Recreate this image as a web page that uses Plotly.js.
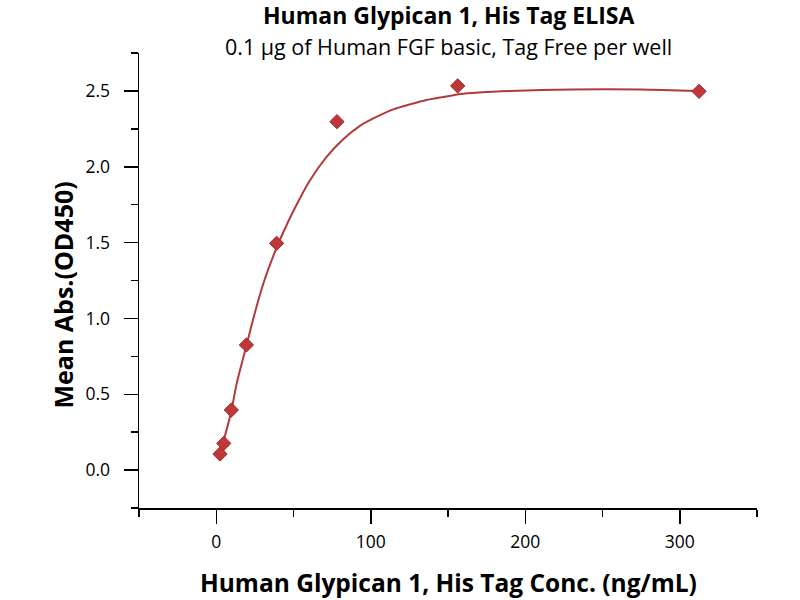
<!DOCTYPE html>
<html>
<head>
<meta charset="utf-8">
<script src="https://cdn.plot.ly/plotly-3.0.1.min.js"></script>
<style>html,body{margin:0;padding:0;background:#fff;}#chart{width:800px;height:600px;}</style>
</head>
<body>
<div id="chart"></div>
<script>
// Measured points
const concentration = [2.44, 4.88, 9.77, 19.53, 39.06, 78.13, 156.25, 312.5];
const meanAbs = [0.106, 0.176, 0.396, 0.825, 1.495, 2.297, 2.533, 2.497];
// Fitted curve
const curveX = [2.44, 4.88, 9.77, 13.2, 19.53, 24, 30.5, 38, 43, 50, 60, 71, 82, 93, 104, 115, 125, 136, 147, 158, 170, 190, 230, 275, 312.5];
const curveY = [0.12, 0.20, 0.39, 0.57, 0.82, 1.00, 1.23, 1.44, 1.56, 1.71, 1.90, 2.06, 2.18, 2.27, 2.33, 2.38, 2.41, 2.44, 2.46, 2.48, 2.49, 2.50, 2.51, 2.51, 2.50];

const titleText = "Human Glypican 1, His Tag ELISA";
const subtitleText = "0.1 μg of Human FGF basic, Tag Free per well";
const xTitle = "Human Glypican 1, His Tag Conc. (ng/mL)";
const yTitle = "Mean Abs.(OD450)";

const FONT = "'Open Sans', 'Noto Sans', sans-serif";
const red = "#c0373a";

const traces = [
  {
    x: curveX, y: curveY, type: "scatter", mode: "lines",
    line: {color: "#b23a3a", width: 2, shape: "spline", smoothing: 0.7},
    hoverinfo: "skip"
  },
  {
    x: concentration, y: meanAbs, type: "scatter", mode: "markers",
    marker: {symbol: "diamond", size: 11, color: red, line: {color: "#a02a2e", width: 1}}
  }
];

const layout = {
  width: 800, height: 600,
  margin: {l: 139, r: 43, t: 53, b: 92},
  paper_bgcolor: "#fff", plot_bgcolor: "#fff",
  showlegend: false,
  font: {family: FONT, color: "#000"},
  xaxis: {
    range: [-50, 350], tick0: 0, dtick: 100,
    ticks: "outside", ticklen: 14, tickwidth: 1.5, tickcolor: "#000",
    showline: true, linecolor: "#000", linewidth: 1.5,
    showgrid: false, zeroline: false,
    ticklabelstandoff: 3,
    tickfont: {family: FONT, size: 17.5, color: "#000"},
    minor: {dtick: 50, tick0: 0, ticks: "outside", ticklen: 7, tickwidth: 1.5, tickcolor: "#000", showgrid: false}
  },
  yaxis: {
    range: [-0.25, 2.75], tick0: 0, dtick: 0.5, tickformat: ".1f",
    ticks: "outside", ticklen: 14, tickwidth: 1.5, tickcolor: "#000",
    showline: true, linecolor: "#000", linewidth: 1.5,
    showgrid: false, zeroline: false,
    ticklabelstandoff: 10,
    tickfont: {family: FONT, size: 17.5, color: "#000"},
    minor: {dtick: 0.25, tick0: 0, ticks: "outside", ticklen: 7, tickwidth: 1.5, tickcolor: "#000", showgrid: false}
  },
  annotations: [
    {text: "<b>" + titleText + "</b>", xref: "paper", yref: "paper", x: 0.5, y: 1, yshift: 38,
     xanchor: "center", yanchor: "middle", showarrow: false, font: {family: FONT, size: 23, color: "#000"}},
    {text: subtitleText, xref: "paper", yref: "paper", x: 0.5, y: 1, yshift: 7,
     xanchor: "center", yanchor: "middle", showarrow: false, font: {family: FONT, size: 21.5, color: "#000"}},
    {text: "<b>" + xTitle + "</b>", xref: "paper", yref: "paper", x: 0.5, y: 0, yshift: -74,
     xanchor: "center", yanchor: "middle", showarrow: false, font: {family: FONT, size: 24.5, color: "#000"}},
    {text: "<b>" + yTitle + "</b>", xref: "paper", yref: "paper", x: 0, y: 0.5, xshift: -77, yshift: -15,
     textangle: -90, xanchor: "center", yanchor: "middle", showarrow: false, font: {family: FONT, size: 25, color: "#000"}}
  ]
};

Plotly.newPlot("chart", traces, layout, {displayModeBar: false, staticPlot: true});
</script>
</body>
</html>
